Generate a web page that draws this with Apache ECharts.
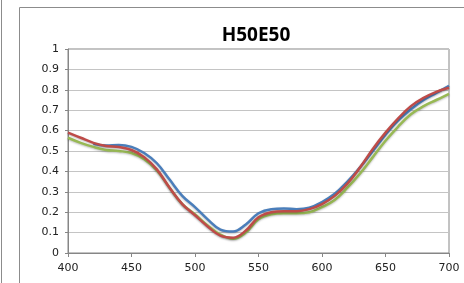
<!DOCTYPE html>
<html>
<head>
<meta charset="utf-8">
<script src="https://cdn.jsdelivr.net/npm/echarts@6/dist/echarts.min.js"></script>
<style>
  html, body { margin: 0; padding: 0; background: #fff; }
  #chart { width: 464px; height: 283px; }
</style>
</head>
<body>
<div id="chart"></div>
<script>
  const wavelengths = [400, 410, 420, 430, 440, 450, 460, 470, 480, 490, 500, 510, 520, 530, 540, 550,
    560, 570, 580, 590, 600, 610, 620, 630, 640, 650, 660, 670, 680, 690, 700];

  const blueVals = [null, null, 0.535, 0.527, 0.53, 0.52, 0.49, 0.44, 0.36, 0.28, 0.225, 0.165, 0.115, 0.105, 0.14, 0.195,
    0.215, 0.218, 0.215, 0.222, 0.25, 0.29, 0.35, 0.42, 0.5, 0.58, 0.65, 0.705, 0.75, 0.785, 0.82];
  const redVals = [0.59, 0.565, 0.54, 0.525, 0.52, 0.505, 0.47, 0.41, 0.32, 0.24, 0.185, 0.13, 0.085, 0.075, 0.11, 0.175,
    0.2, 0.205, 0.205, 0.215, 0.24, 0.28, 0.34, 0.42, 0.51, 0.59, 0.66, 0.72, 0.76, 0.79, 0.81];
  const greenVals = [0.565, 0.54, 0.52, 0.505, 0.5, 0.49, 0.46, 0.405, 0.32, 0.24, 0.19, 0.135, 0.09, 0.07, 0.1, 0.165,
    0.19, 0.195, 0.195, 0.2, 0.225, 0.26, 0.32, 0.39, 0.47, 0.55, 0.62, 0.68, 0.72, 0.75, 0.78];

  const pairs = vals => wavelengths.map((w, i) => [w, vals[i]]);

  const lineSeries = (name, color, vals) => ({
    name: name,
    type: 'line',
    smooth: 0.4,
    symbol: 'none',
    connectNulls: false,
    lineStyle: { color: color, width: 2.5, shadowColor: 'rgba(0,0,0,0.25)', shadowBlur: 2, shadowOffsetY: 1 },
    data: pairs(vals)
  });

  const chart = echarts.init(document.getElementById('chart'));
  chart.setOption({
    animation: false,
    title: {
      text: 'H50E50',
      left: 251,
      textAlign: 'center',
      top: 21,
      textStyle: { fontFamily: 'Open Sans', fontWeight: 'bold', fontSize: 19, color: '#000' }
    },
    graphic: [
      { type: 'rect', shape: { x: 19.5, y: 7.5, width: 460, height: 300 }, style: { fill: 'none', stroke: '#8c8c8c', lineWidth: 1 } },
      { type: 'line', shape: { x1: 1.5, y1: 0, x2: 1.5, y2: 283 }, style: { stroke: '#8c8c8c', lineWidth: 1 } }
    ],
    grid: { left: 68, right: 15, top: 49, bottom: 30, show: true, borderColor: '#868686', borderWidth: 1 },
    xAxis: {
      type: 'value', min: 400, max: 700, interval: 50,
      axisLine: { lineStyle: { color: '#868686' } },
      axisTick: { show: true, length: 4, lineStyle: { color: '#868686' } },
      splitLine: { show: false },
      axisLabel: { fontFamily: 'DejaVu Sans', fontSize: 11, color: '#222', margin: 10 }
    },
    yAxis: {
      type: 'value', min: 0, max: 1, interval: 0.1,
      axisLine: { show: true, lineStyle: { color: '#868686' } },
      axisTick: { show: true, length: 3, lineStyle: { color: '#868686' } },
      splitLine: { lineStyle: { color: '#c4c4c4', width: 1 } },
      axisLabel: { fontFamily: 'DejaVu Sans', fontSize: 11, color: '#222', margin: 9 }
    },
    series: [
      lineSeries('blue', '#4a7ebb', blueVals),
      lineSeries('green', '#98b954', greenVals),
      lineSeries('red', '#be4b48', redVals)
    ]
  });
</script>
</body>
</html>
